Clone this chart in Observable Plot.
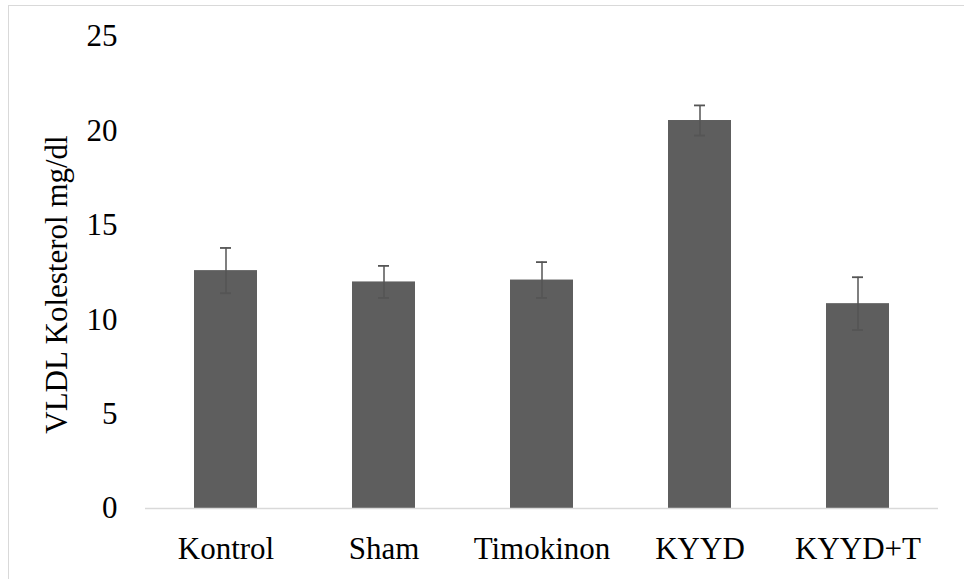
<!DOCTYPE html>
<html>
<head>
<meta charset="utf-8">
<script src="https://cdn.jsdelivr.net/npm/d3@7"></script>
<script src="https://cdn.jsdelivr.net/npm/@observablehq/plot@0.6"></script>
<style>
  html, body { margin: 0; padding: 0; background: #fff; }
  #wrap { position: relative; width: 964px; height: 579px; overflow: hidden; }
  #frame { position: absolute; left: 8px; top: 5px; width: 2000px; height: 2000px;
           border-left: 1px solid #d9d9d9; border-top: 1px solid #d9d9d9; pointer-events: none; }
  #chart { position: absolute; left: 0; top: 0; }
  #chart svg, #chart svg text { font-family: "Liberation Serif", "Tinos", "Times New Roman", "DejaVu Serif", serif !important; }
</style>
</head>
<body>
<div id="wrap"><div id="chart"></div><div id="frame"></div></div>
<script>
const categories = ["Kontrol", "Sham", "Timokinon", "KYYD", "KYYD+T"];
const means = [12.6, 12.0, 12.1, 20.55, 10.85];
const errors = [1.2, 0.85, 0.95, 0.8, 1.4];
const yTicks = [0, 5, 10, 15, 20, 25];
const yLabel = "VLDL Kolesterol mg/dl";

const data = categories.map((c, i) => ({cat: c, v: means[i], lo: means[i] - errors[i], hi: means[i] + errors[i]}));

const font = "Liberation Serif, Tinos, Times New Roman, DejaVu Serif, serif";
const chart = Plot.plot({
  width: 964,
  height: 579,
  marginLeft: 145,
  marginRight: 26,
  marginTop: 36,
  marginBottom: 71,
  style: {fontFamily: font, fontSize: "31px", color: "#000", background: "transparent"},
  x: {domain: categories, paddingInner: 0.6, paddingOuter: 0.3, label: null},
  y: {domain: [0, 25], label: null},
  marks: [
    Plot.barY(data, {x: "cat", y: "v", fill: "#5e5e5e"}),
    Plot.ruleY([0], {stroke: "#d9d9d9", strokeWidth: 1.5}),
    Plot.ruleX(data, {x: "cat", y1: "lo", y2: "hi", stroke: "#555", strokeWidth: 1.5}),
    Plot.tickY(data, {x: "cat", y: "hi", stroke: "#555", strokeWidth: 1.8, insetLeft: 26, insetRight: 26}),
    Plot.tickY(data, {x: "cat", y: "lo", stroke: "#555", strokeWidth: 1.8, insetLeft: 26, insetRight: 26}),
    Plot.axisY({ticks: yTicks, tickSize: 0, tickPadding: 28, label: null, fontSize: 31, fontFamily: font}),
    Plot.axisX({tickSize: 0, tickPadding: 28, label: null, fontSize: 31, fontFamily: font}),
    Plot.text([yLabel], {frameAnchor: "left", dx: -88, dy: 12, textAnchor: "middle", lineAnchor: "middle",
      text: d => d, rotate: -90, fontSize: 31, fontFamily: font, fill: "#000"})
  ]
});
document.getElementById("chart").appendChild(chart);
</script>
</body>
</html>
